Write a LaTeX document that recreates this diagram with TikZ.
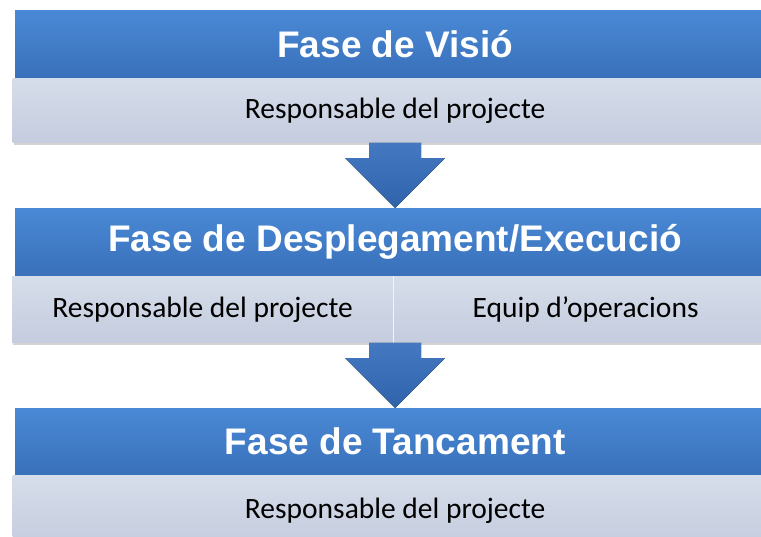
\documentclass[tikz,border=0pt]{standalone}
\usepackage{fontspec}
\newfontfamily\headfont{Liberation Sans}
\newfontfamily\rolefont{Carlito}
\usepackage{tikz}
\usetikzlibrary{calc,positioning,shadows}

\definecolor{headtop}{HTML}{4A89D6}
\definecolor{headbot}{HTML}{3970B9}
\definecolor{roletop}{HTML}{D6DDEA}
\definecolor{rolemid}{HTML}{BEC7DA}
\definecolor{rolebot}{HTML}{C4CCDE}
\definecolor{arrowtop}{HTML}{4479C2}
\definecolor{arrowbot}{HTML}{2F63AA}

\tikzset{
  phase/.style={anchor=north west, minimum width=760pt, minimum height=68pt, inner sep=0pt,
    top color=headtop, bottom color=headbot, text=white,
    font=\headfont\bfseries\fontsize{37}{42}\selectfont},
  role/.style={minimum height=64pt, inner sep=0pt,
    top color=roletop, middle color=rolemid, bottom color=rolebot, text=black,
    font=\rolefont\fontsize{29.5}{34}\selectfont,
    drop shadow={opacity=0.35, shadow xshift=1pt, shadow yshift=-2pt}},
  blockarrow/.style={top color=arrowtop, bottom color=arrowbot}
}

\begin{document}
\begin{tikzpicture}[x=1pt,y=-1pt]
  \useasboundingbox (0,0) rectangle (761,536);

  \node[phase] (head1) at (15,10) {Fase de Visió};
  \node[role, minimum width=765pt, below=0pt of head1] (role1) {Responsable del projecte};

  \node[phase] (head2) at (15,208) {Fase de Desplegament/Execució};
  \node[role, minimum width=381pt, minimum height=66pt, anchor=north west]
    (role2a) at ($(head2.south west)+(-3,0)$) {Responsable del projecte};
  \node[role, minimum width=384pt, minimum height=66pt, right=0pt of role2a]
    (role2b) {Equip d’operacions};
  \draw[white!80!rolemid, line width=1.5pt] (role2a.north east) -- (role2a.south east);

  \node[phase, minimum height=67pt] (head3) at (15,408) {Fase de Tancament};
  \node[role, minimum width=765pt, minimum height=70pt, below=0pt of head3] (role3) {Responsable del projecte};

  \coordinate (role2) at (role2a.south east);
  \foreach \a/\b in {role1/head2, role2/head3} {
    \path (\a |- \a.south) coordinate (a) (\b.north) coordinate (b);
    \fill[blockarrow] ($(b |- a)+(-26,0)$) -- ($(b)+(-26,-50)$) -- ($(b)+(-50,-50)$) -- (b)
      -- ($(b)+(50,-50)$) -- ($(b)+(26,-50)$) -- ($(b |- a)+(26,0)$) -- cycle;
  }
\end{tikzpicture}
\end{document}
